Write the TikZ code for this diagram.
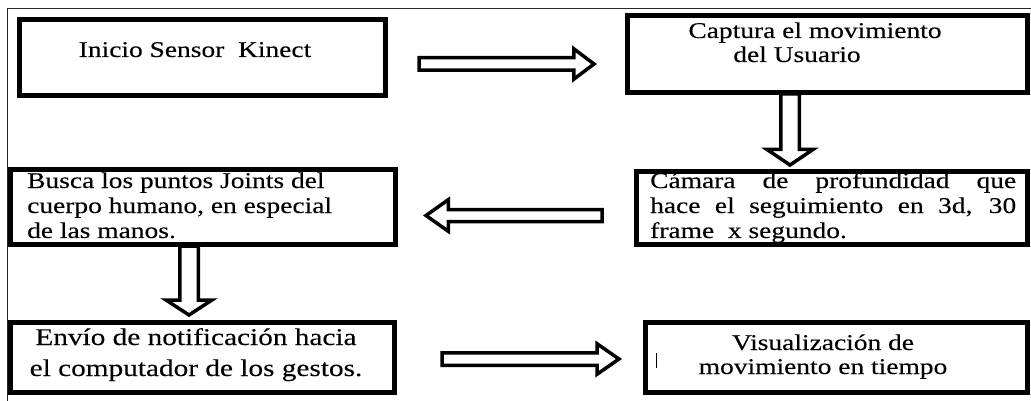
\documentclass[tikz,border=0pt]{standalone}
\usepackage{fontspec}
\setmainfont{Liberation Serif}[FakeStretch=1.22,FakeBold=0.2]
\usetikzlibrary{calc}
\newcommand\fsA{\fontsize{22.5}{25}\selectfont}
\newcommand\fsB{\fontsize{24}{31}\selectfont}
\newcommand\fsC{\fontsize{22.5}{24}\selectfont}
% block arrow: #1 tail, #2 tip, #3 half shaft, #4 half head, #5 head length
\newcommand\blockarr[5]{%
  \path ($(#2)!#5!(#1)$) coordinate (hh);
  \draw[barrow] ($(#1)!#3!90:(#2)$) -- ($(hh)!#3!90:(#2)$) -- ($(hh)!#4!90:(#2)$)
    -- (#2) -- ($(hh)!#4!-90:(#2)$) -- ($(hh)!#3!-90:(#2)$) -- ($(#1)!#3!-90:(#2)$) -- cycle;}
\begin{document}
\begin{tikzpicture}[x=1pt,y=-1pt,
  box/.style={draw, line width=5pt, rectangle, inner sep=0pt},
  barrow/.style={draw=black, line width=3.5pt, fill=white, line join=miter, miter limit=6},
  txt/.style={inner sep=0pt, anchor=base west},
  ctxt/.style={inner sep=0pt, anchor=base},
  frameline/.style={line width=1pt, draw=black!85}]
\useasboundingbox (0,0) rectangle (1031,401);
\fill[white] (0,0) rectangle (1031,401);
\draw[frameline] (7,401) -- (7,8.5) -- (1031,8.5);
% arrow end points
\coordinate (a1s) at (419,64);   \coordinate (a1e) at (594,64);
\coordinate (a2s) at (790,94);   \coordinate (a2e) at (790,165);
\coordinate (a3s) at (602,215.5);\coordinate (a3e) at (426,215.5);
\coordinate (a4s) at (189,246);  \coordinate (a4e) at (189,315);
\coordinate (a5s) at (442,359);  \coordinate (a5e) at (619,359);
\blockarr{a1s}{a1e}{6.25pt}{15.25pt}{20.25pt}
\blockarr{a2s}{a2e}{9.25pt}{23pt}{15.5pt}
\blockarr{a3s}{a3e}{6pt}{15.75pt}{22.25pt}
\blockarr{a4s}{a4e}{9.25pt}{23pt}{15pt}
\blockarr{a5s}{a5e}{6.25pt}{15.25pt}{22pt}
% boxes
\node[box, minimum width=366pt, minimum height=76pt] (b1) at (202.5,57.5) {};
\node[box, minimum width=400pt, minimum height=77pt] (b2) at (827.5,54) {};
\node[box, minimum width=391pt, minimum height=73pt] (b3) at (832,208) {};
\node[box, minimum width=385pt, minimum height=75pt] (b4) at (203,207) {};
\node[box, minimum width=384pt, minimum height=70pt] (b5) at (202.5,357.5) {};
\node[box, minimum width=382pt, minimum height=70pt] (b6) at (836.5,357.5) {};
% texts
\node[ctxt] (t1) at (195,57) {\fsA Inicio Sensor\ \ Kinect};
\node[ctxt] (t2) at (815,38) {\parbox[t]{320pt}{\centering\fsC Captura el movimiento\\ del Usuario\hspace*{36pt}}};
\node[txt] (t3) at (650,188) {\parbox[t]{366pt}{\fsA Cámara de profundidad que\linebreak hace el seguimiento en 3d, 30\linebreak frame\ \ x segundo.}};
\node[txt] (t4) at (27,188) {\parbox[t]{366pt}{\raggedright\fsA Busca los puntos Joints del\\ cuerpo humano, en especial\\ de las manos.}};
\node[ctxt] (t5) at (196,345) {\parbox[t]{385pt}{\centering\fsB Envío de notificación hacia\\ el computador de los gestos.}};
\node[ctxt] (t6) at (823,350) {\parbox[t]{340pt}{\centering\fsC Visualización de\\ movimiento en tiempo}};
\draw[line width=1pt] (656,353) -- (656,368);
\end{tikzpicture}
\end{document}
